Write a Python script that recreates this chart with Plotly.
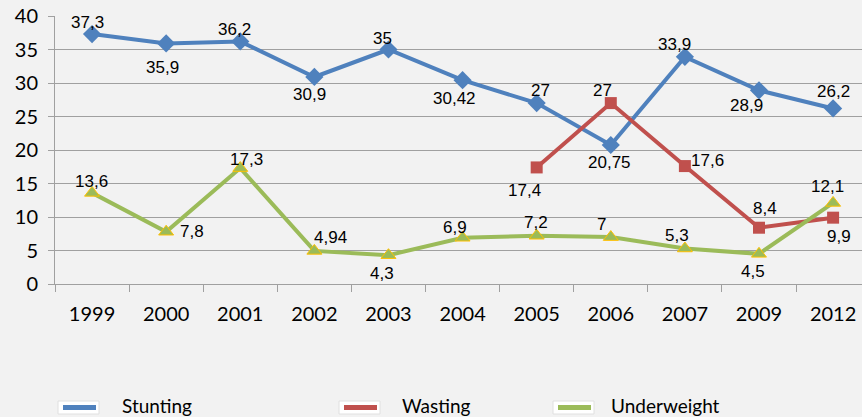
import plotly.graph_objects as go

years = ["1999", "2000", "2001", "2002", "2003", "2004", "2005", "2006", "2007", "2009", "2012"]
stunting = [37.3, 35.9, 36.2, 30.9, 35, 30.42, 27, 20.75, 33.9, 28.9, 26.2]
wasting = [None, None, None, None, None, None, 17.4, 27, 17.6, 8.4, 9.9]
underweight = [13.6, 7.8, 17.3, 4.94, 4.3, 6.9, 7.2, 7, 5.3, 4.5, 12.1]

series_names = ["Stunting", "Wasting", "Underweight"]

# label placement offsets in pixels (dx, dy downward) -- style only
stunting_off = [(-5, -12), (-4, 24), (-6, -12), (-5, 18), (-6, -11), (-8, 18),
                (4, -13), (-1, 18), (-10, -12), (-12, 15), (0, -17)]
wasting_off = [None] * 6 + [(-12, 23), (-8, -13), (23, -6), (6, -19), (6, 19)]
underweight_off = [(-1, -11), (26, 0), (6, -9), (16, -13), (-6, 18), (-8, -10),
                   (-1, -13), (-9, -13), (-8, -13), (-6, 18), (-6, -16)]

BLUE = "#4F81BD"
RED = "#C0504D"
GREEN = "#9BBB59"
LABEL_FONT = dict(family="Liberation Sans, Arial", size=17, color="#000000")

def fmt(v):
    return ("%g" % v).replace(".", ",")

fig = go.Figure()

fig.add_trace(go.Scatter(
    x=years, y=stunting, mode="lines+markers", name="Stunting",
    line=dict(color=BLUE, width=4),
    marker=dict(symbol="diamond", size=14, color=BLUE),
    showlegend=False, cliponaxis=False,
))
fig.add_trace(go.Scatter(
    x=years, y=wasting, mode="lines+markers", name="Wasting",
    line=dict(color=RED, width=4),
    marker=dict(symbol="square", size=12, color=RED),
    showlegend=False, cliponaxis=False,
))
fig.add_trace(go.Scatter(
    x=years, y=underweight, mode="lines+markers", name="Underweight",
    line=dict(color=GREEN, width=4),
    marker=dict(symbol="triangle-up", size=13, color=GREEN, line=dict(color="#FFC000", width=1)),
    showlegend=False, cliponaxis=False,
))

annotations = []
for vals, offs in [(stunting, stunting_off), (wasting, wasting_off), (underweight, underweight_off)]:
    for i, (v, off) in enumerate(zip(vals, offs)):
        if v is None:
            continue
        annotations.append(dict(
            x=i, y=v, xref="x", yref="y", text=fmt(v), showarrow=False,
            xanchor="center", yanchor="middle", xshift=off[0], yshift=-off[1],
            font=LABEL_FONT,
        ))

W, H = 862, 417
L, R, T, B = 55, 0, 16, 133
pw = W - L - R
ph = H - T - B

def px_x(px):
    return (px - L) / pw

def px_y(py):
    return (H - B - py) / ph

# legend (drawn as shapes + text)
shapes = []
legend_box_x = [58, 339, 553]
legend_text_x = [120, 400, 609]
for bx, col, name, tx in zip(legend_box_x, [BLUE, RED, GREEN], series_names, legend_text_x):
    shapes.append(dict(type="rect", xref="paper", yref="paper",
                       x0=px_x(bx), x1=px_x(bx + 41), y0=px_y(401), y1=px_y(414),
                       fillcolor="#FFFFFF", line=dict(color="#E0E0E0", width=1), layer="above"))
    shapes.append(dict(type="rect", xref="paper", yref="paper",
                       x0=px_x(bx + 5), x1=px_x(bx + 38), y0=px_y(405), y1=px_y(410),
                       fillcolor=col, line=dict(width=0), layer="above"))
    annotations.append(dict(x=px_x(tx), y=px_y(405), xref="paper", yref="paper",
                            text=name, showarrow=False, xanchor="left", yanchor="middle",
                            font=dict(family="Lato", size=19, color="#000000")))

fig.update_layout(
    width=W, height=H,
    margin=dict(l=L, r=R, t=T, b=B),
    paper_bgcolor="#F2F2F2", plot_bgcolor="#F2F2F2",
    showlegend=False,
    xaxis=dict(
        type="category", range=[-0.5, 10.39],
        showgrid=False, showline=True, linecolor="#A0A0A0", linewidth=1,
        ticks="outside", tickson="boundaries", ticklen=7, tickcolor="#A0A0A0",
        tickfont=dict(family="Lato", size=20, color="#000000"),
        ticklabelstandoff=12,
    ),
    yaxis=dict(
        range=[0, 40], dtick=5, tick0=0,
        showgrid=True, gridcolor="#A0A0A0", gridwidth=1,
        showline=True, linecolor="#A0A0A0", linewidth=1,
        ticks="outside", ticklen=6, tickcolor="#A0A0A0",
        tickfont=dict(family="Lato", size=20, color="#000000"),
        zeroline=False, ticklabelstandoff=6,
    ),
    annotations=annotations,
    shapes=shapes,
)

fig.write_html("out.html", config={"displayModeBar": False},
               post_script="document.body.style.margin='0';document.body.style.overflow='hidden';")
